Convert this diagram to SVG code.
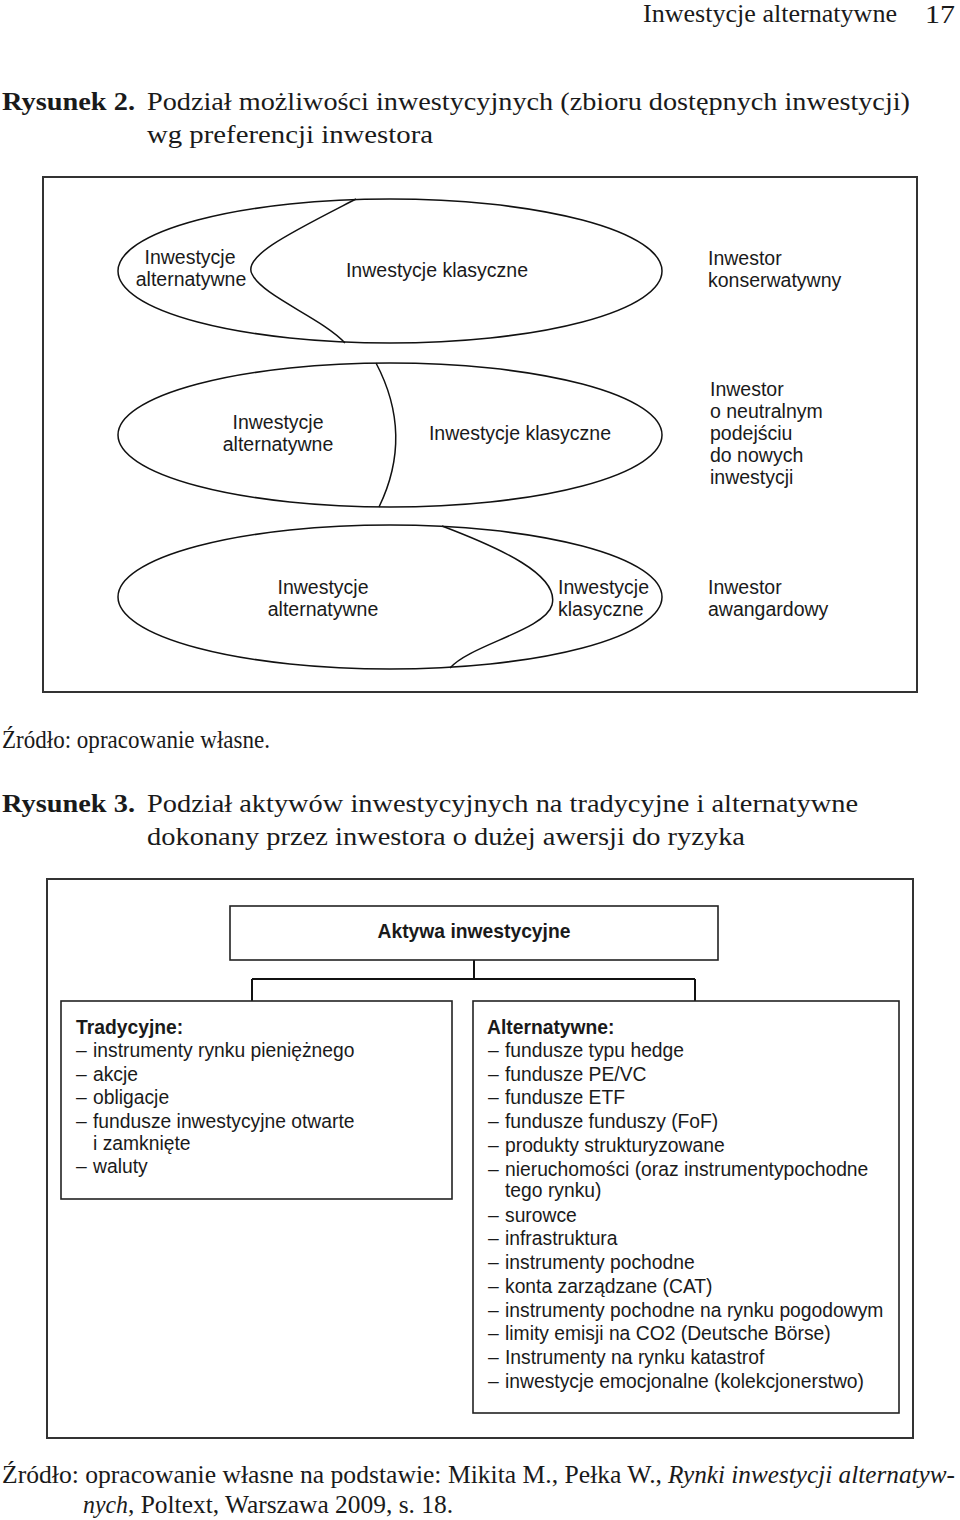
<svg xmlns="http://www.w3.org/2000/svg" width="960" height="1520" viewBox="0 0 960 1520">
<style>
.cap{font-family:"Liberation Serif",serif;font-size:25px;fill:#1a1a1a}
.capb{font-family:"Liberation Serif",serif;font-size:25px;font-weight:bold;fill:#1a1a1a}
.lbl{font-family:"Liberation Sans",Arial,sans-serif;font-size:19.5px;fill:#1a1a1a}
.itm{font-family:"Liberation Sans",Arial,sans-serif;font-size:19.3px;fill:#1a1a1a}
.itmb{font-family:"Liberation Sans",Arial,sans-serif;font-size:19.3px;font-weight:bold;fill:#1a1a1a}
.frame{fill:#fff;stroke:#333;stroke-width:2}
.ell{fill:none;stroke:#111;stroke-width:1.5}
.box{fill:#fff;stroke:#222;stroke-width:1.6}
.conn{fill:none;stroke:#111;stroke-width:2}
</style>
<rect width="960" height="1520" fill="#fff"/>

<!-- page header -->
<text class="cap" x="643" y="22" font-size="24" textLength="254" lengthAdjust="spacingAndGlyphs">Inwestycje alternatywne</text>
<text class="cap" x="925" y="23" font-size="30" textLength="30" lengthAdjust="spacingAndGlyphs">17</text>

<!-- caption figure 2 -->
<text class="capb" x="2" y="110" textLength="133" lengthAdjust="spacingAndGlyphs">Rysunek 2.</text>
<text class="cap" x="147" y="110" textLength="763" lengthAdjust="spacingAndGlyphs">Podział możliwości inwestycyjnych (zbioru dostępnych inwestycji)</text>
<text class="cap" x="147" y="143" textLength="286" lengthAdjust="spacingAndGlyphs">wg preferencji inwestora</text>

<!-- figure 2 frame -->
<rect class="frame" x="43" y="177" width="874" height="515"/>

<g id="set-konserwatywny">
<ellipse class="ell" cx="390" cy="271" rx="272" ry="72"/>
<path class="ell" d="M356,199 C292,232 242,256 252,274 C262,296 322,318 345,343"/>
<text class="lbl" x="190" y="264" text-anchor="middle">Inwestycje</text>
<text class="lbl" x="191" y="286" text-anchor="middle">alternatywne</text>
<text class="lbl" x="437" y="277" text-anchor="middle">Inwestycje klasyczne</text>
<text class="lbl" x="708" y="265">Inwestor</text>
<text class="lbl" x="708" y="287">konserwatywny</text>
</g>

<g id="set-neutralny">
<ellipse class="ell" cx="390" cy="435" rx="272" ry="72"/>
<path class="ell" d="M376,363 Q414,435 379,507"/>
<text class="lbl" x="278" y="429" text-anchor="middle">Inwestycje</text>
<text class="lbl" x="278" y="451" text-anchor="middle">alternatywne</text>
<text class="lbl" x="520" y="440" text-anchor="middle">Inwestycje klasyczne</text>
<text class="lbl" x="710" y="396">Inwestor</text>
<text class="lbl" x="710" y="418">o neutralnym</text>
<text class="lbl" x="710" y="440">podejściu</text>
<text class="lbl" x="710" y="462">do nowych</text>
<text class="lbl" x="710" y="484">inwestycji</text>
</g>

<g id="set-awangardowy">
<ellipse class="ell" cx="390" cy="597" rx="272" ry="72"/>
<path class="ell" d="M442,526 C500,548 560,575 552,605 C545,630 470,645 450,668"/>
<text class="lbl" x="323" y="594" text-anchor="middle">Inwestycje</text>
<text class="lbl" x="323" y="616" text-anchor="middle">alternatywne</text>
<text class="lbl" x="558" y="594">Inwestycje</text>
<text class="lbl" x="558" y="616">klasyczne</text>
<text class="lbl" x="708" y="594">Inwestor</text>
<text class="lbl" x="708" y="616">awangardowy</text>
</g>

<text class="cap" x="2" y="748" textLength="268" lengthAdjust="spacingAndGlyphs">Źródło: opracowanie własne.</text>

<!-- caption figure 3 -->
<text class="capb" x="2" y="812" textLength="133" lengthAdjust="spacingAndGlyphs">Rysunek 3.</text>
<text class="cap" x="147" y="812" textLength="711" lengthAdjust="spacingAndGlyphs">Podział aktywów inwestycyjnych na tradycyjne i alternatywne</text>
<text class="cap" x="147" y="845" textLength="598" lengthAdjust="spacingAndGlyphs">dokonany przez inwestora o dużej awersji do ryzyka</text>

<!-- figure 3 frame -->
<rect class="frame" x="47" y="879" width="866" height="559"/>

<g id="connectors">
<path class="conn" d="M474,960 V979"/>
<path class="conn" d="M252,979 H695" stroke-width="3"/>
<path class="conn" d="M252,979 V1001 M695,979 V1001"/>
</g>

<g id="aktywa">
<rect class="box" x="230" y="906" width="488" height="54"/>
<text class="itmb" x="474" y="938" text-anchor="middle">Aktywa inwestycyjne</text>
</g>

<g id="tradycyjne">
<rect class="box" x="61" y="1001" width="391" height="198"/>
<text class="itmb" x="76" y="1034">Tradycyjne:</text>
<text class="itm" x="76" y="1057">–</text><text class="itm" x="93" y="1057">instrumenty rynku pieniężnego</text>
<text class="itm" x="76" y="1081">–</text><text class="itm" x="93" y="1081">akcje</text>
<text class="itm" x="76" y="1104">–</text><text class="itm" x="93" y="1104">obligacje</text>
<text class="itm" x="76" y="1128">–</text><text class="itm" x="93" y="1128">fundusze inwestycyjne otwarte</text>
<text class="itm" x="93" y="1150">i zamknięte</text>
<text class="itm" x="76" y="1173">–</text><text class="itm" x="93" y="1173">waluty</text>
</g>

<g id="alternatywne">
<rect class="box" x="473" y="1001" width="426" height="412"/>
<text class="itmb" x="487" y="1034">Alternatywne:</text>
<text class="itm" x="488" y="1057">–</text><text class="itm" x="505" y="1057">fundusze typu hedge</text>
<text class="itm" x="488" y="1081">–</text><text class="itm" x="505" y="1081">fundusze PE/VC</text>
<text class="itm" x="488" y="1104">–</text><text class="itm" x="505" y="1104">fundusze ETF</text>
<text class="itm" x="488" y="1128">–</text><text class="itm" x="505" y="1128">fundusze funduszy (FoF)</text>
<text class="itm" x="488" y="1152">–</text><text class="itm" x="505" y="1152">produkty strukturyzowane</text>
<text class="itm" x="488" y="1176">–</text><text class="itm" x="505" y="1176">nieruchomości (oraz instrumentypochodne</text>
<text class="itm" x="505" y="1197">tego rynku)</text>
<text class="itm" x="488" y="1222">–</text><text class="itm" x="505" y="1222">surowce</text>
<text class="itm" x="488" y="1245">–</text><text class="itm" x="505" y="1245">infrastruktura</text>
<text class="itm" x="488" y="1269">–</text><text class="itm" x="505" y="1269">instrumenty pochodne</text>
<text class="itm" x="488" y="1293">–</text><text class="itm" x="505" y="1293">konta zarządzane (CAT)</text>
<text class="itm" x="488" y="1317">–</text><text class="itm" x="505" y="1317">instrumenty pochodne na rynku pogodowym</text>
<text class="itm" x="488" y="1340">–</text><text class="itm" x="505" y="1340">limity emisji na CO2 (Deutsche Börse)</text>
<text class="itm" x="488" y="1364">–</text><text class="itm" x="505" y="1364">Instrumenty na rynku katastrof</text>
<text class="itm" x="488" y="1388">–</text><text class="itm" x="505" y="1388">inwestycje emocjonalne (kolekcjonerstwo)</text>
</g>

<!-- source -->
<text class="cap" x="2" y="1483" textLength="660" lengthAdjust="spacingAndGlyphs">Źródło: opracowanie własne na podstawie: Mikita M., Pełka W.,</text>
<text class="cap" x="668" y="1483" font-style="italic" textLength="287" lengthAdjust="spacingAndGlyphs">Rynki inwestycji alternatyw-</text>
<text class="cap" x="83" y="1513" font-style="italic" textLength="45" lengthAdjust="spacingAndGlyphs">nych</text>
<text class="cap" x="128" y="1513" textLength="325" lengthAdjust="spacingAndGlyphs">, Poltext, Warszawa 2009, s. 18.</text>
</svg>
